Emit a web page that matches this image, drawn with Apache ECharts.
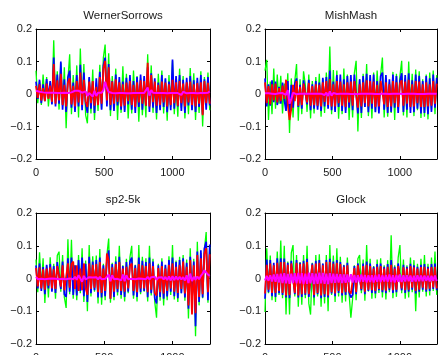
<!DOCTYPE html>
<html><head><meta charset="utf-8">
<script src="https://cdn.jsdelivr.net/npm/echarts@6/dist/echarts.min.js"></script>
<style>html,body{margin:0;padding:0;background:#fff}#c{width:441px;height:355px}</style>
</head><body><div id="c"></div><script>
const panelTitles = ['WernerSorrows', 'MishMash', 'sp2-5k', 'Glock'];
const xTicks = [0, 500, 1000];
const yTicks = [-0.2, -0.1, 0, 0.1, 0.2];
const xMax = 1276;
const sampleStep = 13; // samples between stored points
// values below are in thousandths

const wernerGreen = [72,-28,40,-34,60,-15,52,-38,25,-30,
165,-22,70,-48,95,-35,82,-105,44,122,
-62,58,-40,88,-72,140,-30,92,-65,-90,
48,-60,75,-80,35,-52,90,-45,112,152,
-30,125,-68,55,-42,78,-80,40,-58,85,
-50,62,-75,35,-60,72,-38,55,-85,48,
-65,30,-72,122,-45,88,-58,38,-78,62,
-35,72,-60,45,-82,58,-40,102,-62,30,
-70,78,-42,55,-75,35,-62,80,-48,64,
-80,40,-58,70,-100,52,-35,66,-50];
const wernerBlue = [38,-15,44,-28,30,-22,46,-12,40,-32,
112,-38,60,-30,100,-48,45,-55,52,72,
-42,35,-55,58,-38,90,-50,66,-30,-58,
52,-45,38,-58,48,-30,68,-48,88,112,
-38,92,-50,40,-52,60,-35,52,-48,38,
-55,50,-32,58,-48,40,-58,52,-40,60,
-48,55,-36,82,-55,64,-42,48,-58,35,
-50,58,-40,48,-56,38,-50,106,-45,55,
-38,58,-52,44,-58,50,-35,55,-50,42,
-55,50,-40,58,-62,45,-48,52,-35];
const wernerRed = [25,-12,30,-20,18,-22,32,-15,26,-24,
92,-30,42,-20,62,-34,28,-38,35,48,
-32,25,-38,40,-26,66,-34,44,-22,-40,
38,-28,40,-36,22,-34,52,-30,78,102,
-20,82,-34,38,-30,45,-24,36,-38,30,
-36,35,-22,40,-34,28,-40,36,-26,42,
-30,40,-36,96,-38,58,-25,38,-36,28,
-34,38,-26,35,-38,30,-34,44,-28,36,
-36,40,-28,32,-38,36,-26,38,-34,30,
-38,34,-30,36,-65,40,-28,34,-30];
const wernerMagenta = [10,8,7,6,5,5,4,4,4,3,
4,3,3,4,3,3,4,3,3,4,
5,7,10,15,10,6,4,3,8,-6,
3,8,-8,10,-6,4,3,4,12,38,
18,6,4,3,3,2,3,3,2,3,
3,2,3,2,3,3,2,3,2,3,
3,3,8,20,-5,12,4,3,3,2,
3,2,3,3,2,3,3,4,3,2,
3,8,-3,7,3,2,3,3,2,3,
3,2,3,3,4,3,6,4,8];

const mishGreen = [72,105,-80,38,-62,78,-45,60,-30,56,
-60,32,-48,64,-120,48,-72,40,92,-82,
45,-62,70,28,-55,60,-75,40,-60,52,
-40,62,-70,45,-58,66,-35,146,-62,74,
-48,72,-76,40,-62,78,-50,60,-80,38,
-72,64,102,-115,45,-74,62,-40,92,-68,
40,-75,66,-55,72,-38,60,112,-72,48,
-70,36,-58,68,-80,62,-42,55,102,-66,
48,-72,100,-40,62,-68,75,-50,70,-74,
45,-70,60,-78,66,-48,72,-62,58];
const mishBlue = [48,-38,30,-36,42,-25,38,-34,22,-30,
35,-18,-52,40,-66,28,-42,32,48,-40,
28,-45,42,48,-32,44,-50,30,-45,40,
-48,35,-52,50,-38,52,-45,72,-50,38,
-55,58,-40,60,-52,45,-58,55,-42,58,
-50,60,64,-60,45,-58,55,-40,62,-56,
58,-45,60,-56,40,-60,55,66,-48,58,
-58,45,-55,60,-42,55,-58,40,64,-55,
58,-48,64,-58,42,-56,60,-45,56,-60,
40,-58,55,-62,48,-55,60,-42,50];
const mishRed = [36,-28,24,-32,30,-20,32,-26,18,-22,
26,-15,44,-32,-80,-46,28,-22,40,-36,
22,-34,32,36,-26,34,-36,24,-34,30,
-36,28,-38,36,-24,40,-34,46,-38,30,
-38,40,-28,38,-36,30,-40,36,-26,38,
-36,40,44,-42,30,-38,36,-28,42,-38,
40,-30,38,-40,28,-38,40,46,-32,36,
-40,30,-38,40,-28,36,-40,32,42,-36,
38,-30,44,-40,30,-38,40,-28,38,-40,
30,-40,36,-38,30,-36,40,-30,32];
const mishMagenta = [2,4,2,3,1,2,0,1,2,1,
3,5,-3,12,-30,-15,4,2,-1,2,
1,2,1,0,1,2,1,0,1,1,
1,2,1,2,-3,4,-6,8,-5,3,
1,0,1,1,0,1,0,1,1,0,
1,0,1,0,1,1,0,1,0,1,
0,1,1,0,1,0,1,1,0,1,
1,0,1,1,0,1,0,1,1,0,
1,1,0,1,0,1,1,0,1,0,
1,0,1,1,0,1,0,1,1];

const spGreen = [58,-42,80,-30,62,-75,40,-58,65,-35,
45,-62,70,82,-40,72,-58,-90,120,-48,
118,-62,40,-66,72,-45,92,-72,55,-100,
102,-55,68,-40,70,-76,90,-80,45,-66,
72,122,-74,48,-66,68,-52,100,-62,40,
-70,60,-45,65,100,-62,42,-70,102,-48,
66,-40,62,-70,100,-52,60,-72,-120,45,
-68,62,-82,40,-66,68,-50,102,-64,55,
-72,66,-45,72,-68,58,-122,92,-76,60,
-176,112,-82,78,-60,88,142,-74,96];
const spBlue = [40,-30,46,-38,35,-48,42,-30,44,-40,
38,-44,50,56,-32,52,-48,-56,62,-40,
64,-50,40,-52,56,-38,64,-54,45,-72,
66,-45,52,-36,56,-58,64,-58,40,-54,
56,86,-62,44,-56,52,-42,66,-50,38,
-56,50,-40,52,64,-52,40,-56,64,-42,
54,-38,50,-57,64,-45,52,-60,-76,40,
-56,52,-62,42,-55,56,-40,64,-54,50,
-60,56,-45,62,-58,48,-92,66,-64,52,
-146,82,-72,86,-58,92,112,-66,104];
const spRed = [32,-24,34,-30,28,-34,30,-22,34,-30,
28,-32,38,42,-25,40,-36,-40,46,-28,
44,52,-32,40,-38,30,-36,46,-30,-50,
46,-32,42,-28,44,-42,50,-44,30,-38,
76,56,-62,34,-40,44,-32,50,-38,30,
-40,36,-30,38,46,-38,32,-42,44,-30,
40,-30,38,-42,46,-34,38,-44,-52,32,
-42,38,-46,30,-38,42,-30,46,-40,36,
-44,42,-32,52,-46,36,-82,56,-110,40,
-106,72,-56,62,-48,76,92,-42,74];
const spMagenta = [5,-2,4,-1,5,-2,4,-1,3,0,
4,-1,3,-2,4,-1,5,-2,3,0,
4,-2,5,-4,10,14,-10,8,-3,2,
4,-2,3,-1,4,-3,5,-2,4,-1,
5,12,-8,10,-2,4,-1,3,-6,12,
-8,10,-2,4,-1,3,-2,4,0,3,
-1,4,-2,5,-3,4,-2,5,-4,3,
-2,4,-3,5,-5,6,-6,7,-5,6,
-4,5,-3,4,-6,10,-14,15,-8,5,
-4,6,-2,8,15,25,20,12,8];

const glockGreen = [-102,92,-45,70,-66,40,-72,82,-50,116,
-60,100,-110,52,-110,78,102,-55,72,-86,
50,-80,72,-60,100,-76,-110,48,-82,72,
-55,74,-86,45,-76,72,-100,102,-50,70,
-72,92,-55,66,-74,42,-70,64,-48,-120,
-62,40,-66,60,72,-45,58,-68,102,-40,
60,-62,38,-60,58,-44,62,-58,40,-64,
56,-42,132,-60,40,-56,64,102,-45,58,
-62,40,-58,64,-42,56,-100,45,-58,60,
-40,72,-55,45,-52,64,-38,82,-50];
const glockBlue = [-62,58,-42,56,-54,48,-56,62,-45,62,
-50,61,-58,48,-60,54,58,-48,56,-58,
48,-56,54,-50,60,-56,-60,46,-58,54,
-48,56,-60,46,-56,56,-58,60,-46,52,
-54,56,-44,50,-52,40,-50,48,-42,-58,
-50,38,-48,46,50,-36,46,-48,52,-38,
46,-44,36,-46,44,-36,46,-42,36,-45,
44,-36,56,-44,36,-42,46,52,-36,42,
-44,36,-40,45,-34,40,-46,36,-40,42,
-34,44,-40,36,-38,44,-32,46,-36];
const glockRed = [-46,42,-34,46,-44,40,-44,48,-38,50,
-44,50,-52,42,-50,46,52,-44,48,-52,
44,-48,46,-46,50,-48,-52,42,-50,46,
-44,48,-52,40,-48,50,-52,50,-42,45,
-46,48,-38,44,-45,36,-42,40,-38,-46,
-42,32,-42,40,42,-32,38,-40,42,-34,
38,-36,30,-38,36,-32,38,-36,30,-37,
36,-30,42,-36,30,-34,38,40,-30,34,
-36,30,-34,38,-28,34,-38,30,-34,35,
-28,36,-33,30,-31,35,-27,36,-30];
const glockMagenta = [-6,8,-7,10,-9,12,-10,14,-12,15,
-14,16,-15,14,-16,15,-14,16,-15,17,
-15,16,-17,15,-16,18,-15,16,-17,15,
-16,18,-15,17,-16,15,-17,16,-14,15,
-13,14,-12,13,-14,12,-13,12,-11,13,
-12,11,-12,10,-11,12,-10,11,-12,10,
-11,10,-12,11,-10,12,-11,10,-9,11,
-10,12,-11,10,-12,11,-10,12,-11,10,
-9,10,-8,9,-10,8,-9,10,-8,9,
-8,9,-7,8,-9,8,-7,9,-8];

const panelData = [
  [wernerGreen, wernerBlue, wernerRed, wernerMagenta],
  [mishGreen, mishBlue, mishRed, mishMagenta],
  [spGreen, spBlue, spRed, spMagenta],
  [glockGreen, glockBlue, glockRed, glockMagenta]
];
const seriesColors = ['#00ff00', '#0000ff', '#ff0000', '#ff00ff'];
const seriesWidths = [1.3, 1.7, 1.8, 2];

const grids = [
  {left: 36, top: 29, width: 174, height: 130},
  {left: 265, top: 29, width: 172, height: 130},
  {left: 36, top: 213, width: 174, height: 131},
  {left: 265, top: 213, width: 172, height: 131}
].map(g => Object.assign({containLabel: false, outerBoundsMode: 'none'}, g));
const font = 'Liberation Sans, Arial, Helvetica, sans-serif';
const txt = '#1a1a1a';
const fmtY = v => {
  const r = Math.round(v * 10) / 10;
  if (r === 0) return '0';
  return (r < 0 ? '\u2212' : '') + Math.abs(r).toString();
};
const fmtX = v => String(Math.round(v));
const lineS = {show: true, onZero: false, lineStyle: {color: '#000', width: 1}};
const tickS = {show: true, inside: true, length: 3, lineStyle: {color: '#000', width: 1}};

const xAxes = [], yAxes = [], series = [], titles = [];
grids.forEach((g, gi) => {
  xAxes.push({gridIndex: gi, type: 'value', position: 'bottom', min: xTicks[0], max: xMax,
    interval: xTicks[1] - xTicks[0], axisLine: lineS, axisTick: tickS, splitLine: {show: false},
    axisLabel: {show: true, showMaxLabel: false, margin: 8, fontSize: 11, color: txt, fontFamily: font, formatter: fmtX}});
  xAxes.push({gridIndex: gi, type: 'value', position: 'top', min: xTicks[0], max: xMax,
    interval: xTicks[1] - xTicks[0], axisLine: lineS, axisTick: tickS, splitLine: {show: false},
    axisLabel: {show: false}});
  yAxes.push({gridIndex: gi, type: 'value', position: 'left', min: yTicks[0], max: yTicks[yTicks.length - 1],
    interval: yTicks[1] - yTicks[0], axisLine: lineS, axisTick: tickS, splitLine: {show: false},
    axisLabel: {show: true, margin: 4, fontSize: 11, color: txt, fontFamily: font, formatter: fmtY}});
  yAxes.push({gridIndex: gi, type: 'value', position: 'right', min: yTicks[0], max: yTicks[yTicks.length - 1],
    interval: yTicks[1] - yTicks[0], axisLine: lineS, axisTick: tickS, splitLine: {show: false},
    axisLabel: {show: false}});
  panelData[gi].forEach((arr, si) => {
    series.push({type: 'line', xAxisIndex: gi * 2, yAxisIndex: gi * 2, showSymbol: false, symbol: 'none',
      animation: false, silent: true, clip: true,
      lineStyle: {color: seriesColors[si], width: seriesWidths[si]},
      data: arr.map((v, i) => [i * sampleStep, v / 1000])});
  });
  titles.push({text: panelTitles[gi], left: g.left + g.width / 2, top: g.top - 19, textAlign: 'center', padding: 0,
    textStyle: {fontSize: 11.5, fontWeight: 'normal', color: txt, fontFamily: font}});
});

const chart = echarts.init(document.getElementById('c'), null, {renderer: 'canvas'});
chart.setOption({
  animation: false,
  backgroundColor: '#fff',
  title: titles,
  grid: grids,
  xAxis: xAxes,
  yAxis: yAxes,
  series: series
});
</script></body></html>
